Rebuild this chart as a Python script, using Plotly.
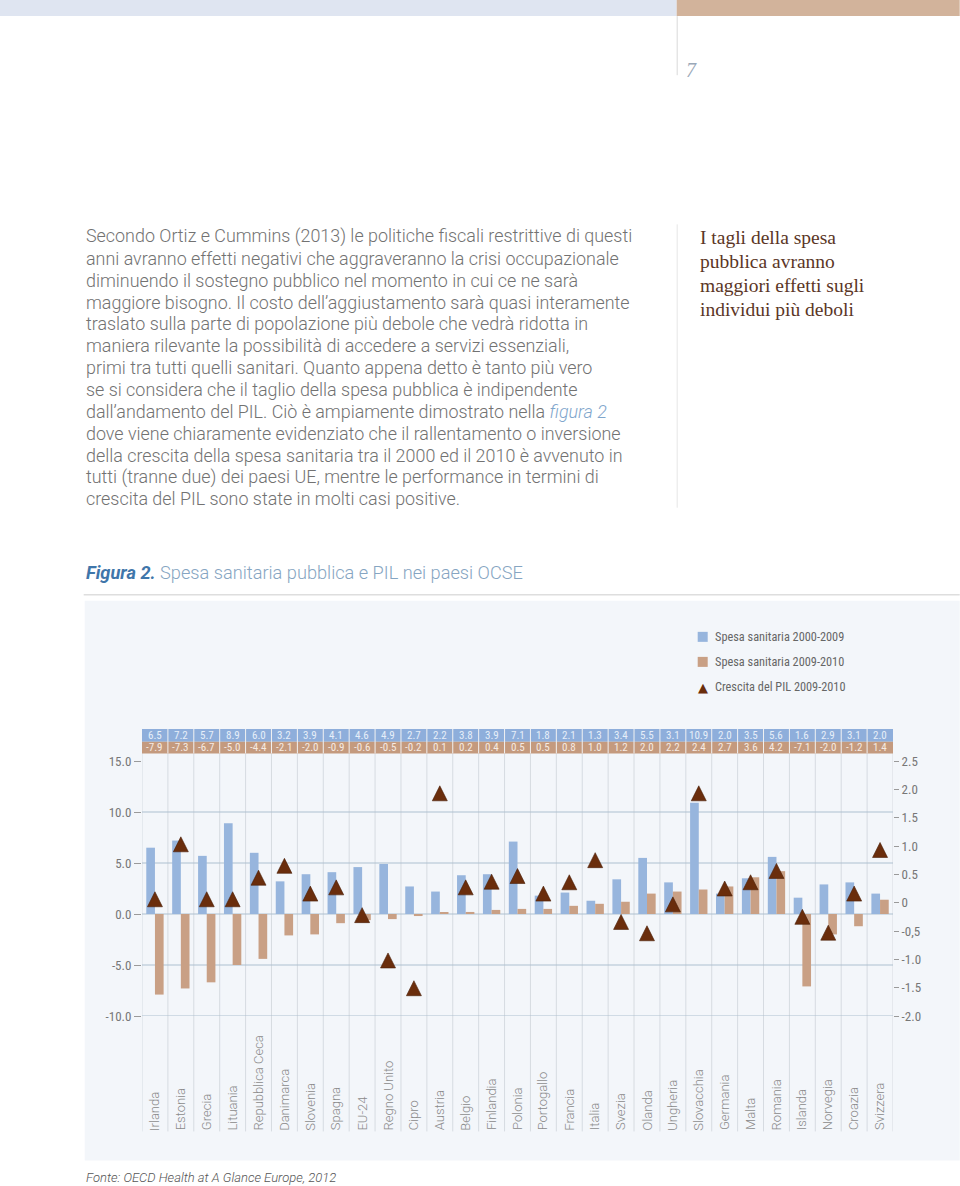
import plotly.graph_objects as go

# ---------------- data ----------------
paesi = ["Irlanda", "Estonia", "Grecia", "Lituania", "Repubblica Ceca", "Danimarca",
         "Slovenia", "Spagna", "EU-24", "Regno Unito", "Cipro", "Austria", "Belgio",
         "Finlandia", "Polonia", "Portogallo", "Francia", "Italia", "Svezia", "Olanda",
         "Ungheria", "Slovacchia", "Germania", "Malta", "Romania", "Islanda",
         "Norvegia", "Croazia", "Svizzera"]
spesa_2000_2009 = [6.5, 7.2, 5.7, 8.9, 6.0, 3.2, 3.9, 4.1, 4.6, 4.9, 2.7, 2.2, 3.8, 3.9,
                   7.1, 1.8, 2.1, 1.3, 3.4, 5.5, 3.1, 10.9, 2.0, 3.5, 5.6, 1.6, 2.9, 3.1, 2.0]
spesa_2009_2010 = [-7.9, -7.3, -6.7, -5.0, -4.4, -2.1, -2.0, -0.9, -0.6, -0.5, -0.2, 0.1,
                   0.2, 0.4, 0.5, 0.5, 0.8, 1.0, 1.2, 2.0, 2.2, 2.4, 2.7, 3.6, 4.2, -7.1,
                   -2.0, -1.2, 1.4]
pil_2009_2010 = [0.06, 1.03, 0.06, 0.06, 0.44, 0.65, 0.16, 0.27, -0.22, -1.02, -1.51, 1.93,
                 0.27, 0.37, 0.47, 0.16, 0.36, 0.75, -0.34, -0.54, -0.03, 1.93, 0.25, 0.36,
                 0.56, -0.25, -0.53, 0.16, 0.93]

left_ticks = [-10, -5, 0, 5, 10, 15]
left_ticktext = ["-10.0", "-5.0", "0.0", "5.0", "10.0", "15.0"]
right_ticks = [-2.0, -1.5, -1.0, -0.5, 0, 0.5, 1.0, 1.5, 2.0, 2.5]
right_ticktext = ["-2.0", "-1.5", "-1.0", "-0,5", "0", "0.5", "1.0", "1.5", "2.0", "2.5"]

body_lines = [
    "Secondo Ortiz e Cummins (2013) le politiche fiscali restrittive di questi",
    "anni avranno effetti negativi che aggraveranno la crisi occupazionale",
    "diminuendo il sostegno pubblico nel momento in cui ce ne sarà",
    "maggiore bisogno. Il costo dell’aggiustamento sarà quasi interamente",
    "traslato sulla parte di popolazione più debole che vedrà ridotta in",
    "maniera rilevante la possibilità di accedere a servizi essenziali,",
    "primi tra tutti quelli sanitari. Quanto appena detto è tanto più vero",
    "se si considera che il taglio della spesa pubblica è indipendente",
    "dall’andamento del PIL. Ciò è ampiamente dimostrato nella <i><span style='color:#7fa6cc'>figura 2</span></i>",
    "dove viene chiaramente evidenziato che il rallentamento o inversione",
    "della crescita della spesa sanitaria tra il 2000 ed il 2010 è avvenuto in",
    "tutti (tranne due) dei paesi UE, mentre le performance in termini di",
    "crescita del PIL sono state in molti casi positive.",
]
side_lines = ["I tagli della spesa", "pubblica avranno", "maggiori effetti sugli",
              "individui più deboli"]

# ---------------- geometry helpers ----------------
W, H = 960, 1186
L, R, T, B = 142.3, 893.3, 761.0, 1015.7


def px(x):
    return (x - L) / (R - L)


def py(y):
    return (B - y) / (B - T)


COND = "Roboto Condensed, Liberation Sans Narrow, DejaVu Sans Condensed, Arial Narrow, Roboto"
BLUE = "#97b5dd"
BROWN = "#c9a085"
TRI = "#6a2d0c"

fig = go.Figure()
fig.add_trace(go.Bar(x=paesi, y=spesa_2000_2009, name="Spesa sanitaria 2000-2009",
                     marker=dict(color=BLUE, line=dict(width=0)), showlegend=False))
fig.add_trace(go.Bar(x=paesi, y=spesa_2009_2010, name="Spesa sanitaria 2009-2010",
                     marker=dict(color=BROWN, line=dict(width=0)), showlegend=False))
fig.add_trace(go.Scatter(x=paesi, y=pil_2009_2010, yaxis="y2", mode="markers",
                         name="Crescita del PIL 2009-2010", showlegend=False,
                         marker=dict(symbol="arrow-down", angle=180, standoff=7.5, size=15,
                                     color=TRI, line=dict(color="#4a1e06", width=0.6))))

shapes = []
ann = []


def rect(x0, y0, x1, y1, color, layer="below"):
    shapes.append(dict(type="rect", xref="paper", yref="paper", x0=px(x0), x1=px(x1),
                       y0=py(y1), y1=py(y0), fillcolor=color, line=dict(width=0),
                       layer=layer))


def line(x0, y0, x1, y1, color, width=1, layer="below"):
    shapes.append(dict(type="line", xref="paper", yref="paper", x0=px(x0), x1=px(x1),
                       y0=py(y0), y1=py(y1), line=dict(color=color, width=width),
                       layer=layer))


def text(x, y, s, size, color, family="Roboto", xanchor="left", yanchor="middle",
         weight=None, style=None, angle=0):
    f = dict(size=size, color=color, family=family)
    if weight:
        f["weight"] = weight
    if style:
        f["style"] = style
    ann.append(dict(xref="paper", yref="paper", x=px(x), y=py(y), text=s, showarrow=False,
                    xanchor=xanchor, yanchor=yanchor, font=f, textangle=angle,
                    align="left"))


# page decorations
rect(0, 0, 677, 17, "#dfe5f1")
rect(677, 0, 960, 17, "#d2b39b")
line(677.5, 17, 677.5, 76, "#d9d9d9")
text(684, 71, "7", 20, "#9aa8b8", family="Liberation Serif, DejaVu Serif, serif",
     style="italic")
line(677.5, 225, 677.5, 508, "#e6e6e6")

# body text
for i, s in enumerate(body_lines):
    text(84, 237 + i * 21.85, s, 17.9, "#727272", weight=300)
for i, s in enumerate(side_lines):
    text(698, 238 + i * 24, s, 19.5, "#5b3626",
         family="Liberation Serif, DejaVu Serif, serif")

# figure title
text(84, 573, "<b><i><span style='color:#3f76aa'>Figura 2.</span></i></b> Spesa sanitaria pubblica e PIL nei paesi OCSE",
     18.2, "#86a5c2", weight=300)
line(84, 595, 960, 595, "#dedede", width=1.5)

# panel
rect(85, 601, 960, 1160, "#f3f6fa")

# vertical separators (category boundaries)
for i in range(len(paesi) + 1):
    shapes.append(dict(type="line", xref="x", yref="paper", x0=i - 0.5, x1=i - 0.5,
                       y0=py(1131), y1=py(729), line=dict(color="#d6dbe1", width=1),
                       layer="below"))
# horizontal gridlines
for v in [-10, -5, 0, 5, 10]:
    shapes.append(dict(type="line", xref="paper", yref="y", x0=0, x1=1, y0=v, y1=v,
                       line=dict(color="#adbfcf", width=1.2), layer="below"))

# data table above plot
rect(142.3, 729, 893.3, 741.8, "#8eaedb", layer="above")
rect(142.3, 741.8, 893.3, 753.5, "#c49a7e", layer="above")
for i in range(1, len(paesi)):
    shapes.append(dict(type="line", xref="x", yref="paper", x0=i - 0.5, x1=i - 0.5,
                       y0=py(753.5), y1=py(729), line=dict(color="#f2f2f2", width=1),
                       layer="above"))
for i in range(len(paesi)):
    ann.append(dict(xref="x", yref="paper", x=i, y=py(735.5), yanchor="middle",
                    xanchor="center", text=f"{spesa_2000_2009[i]:.1f}", showarrow=False,
                    font=dict(size=11, color="#e6eef9", family=COND)))
    ann.append(dict(xref="x", yref="paper", x=i, y=py(747.7), yanchor="middle",
                    xanchor="center", text=f"{spesa_2009_2010[i]:.1f}", showarrow=False,
                    font=dict(size=11, color="#f7ebe2", family=COND)))

# category labels (rotated, bottom aligned)
for i, p in enumerate(paesi):
    ann.append(dict(xref="x", yref="paper", x=i, y=py(1132), text=p, showarrow=False,
                    textangle=-90, xanchor="center", yanchor="bottom",
                    font=dict(size=13, color="#8a8a8a", family="Roboto", weight=300)))

# legend
rect(698, 632, 708, 642, BLUE)
rect(698, 657, 708, 667, BROWN)
text(713, 637, "Spesa sanitaria 2000-2009", 12.3, "#666666", family=COND)
text(713, 662, "Spesa sanitaria 2009-2010", 12.3, "#666666", family=COND)
text(713, 687, "Crescita del PIL 2009-2010", 12.3, "#666666", family=COND)
text(703, 688, "▲", 13, TRI, family="DejaVu Sans", xanchor="center")

# source
text(84, 1177, "Fonte: OECD Health at A Glance Europe, 2012", 13, "#555555",
     style="italic", weight=300)

fig.update_layout(
    width=W, height=H,
    margin=dict(l=L, r=W - R, t=T, b=H - B, pad=0),
    paper_bgcolor="white", plot_bgcolor="rgba(0,0,0,0)",
    barmode="group", bargap=0.33, bargroupgap=0,
    shapes=shapes, annotations=ann, showlegend=False,
    xaxis=dict(range=[-0.5, len(paesi) - 0.5], showticklabels=False, showgrid=False,
               zeroline=False, ticks=""),
    yaxis=dict(range=[-10, 15], tickvals=left_ticks, ticktext=left_ticktext,
               showgrid=False, zeroline=False, ticks="outside", ticklen=7,
               tickcolor="#9a9a9a", tickfont=dict(size=13, color="#777777", family=COND)),
    yaxis2=dict(range=[-2, 2.5], overlaying="y", side="right", tickvals=right_ticks,
                ticktext=right_ticktext, showgrid=False, zeroline=False, ticks="outside",
                ticklen=5, tickcolor="#9a9a9a",
                tickfont=dict(size=13, color="#777777", family=COND)),
)

fig.write_html("out.html", config={"displayModeBar": False},
               post_script="document.body.style.margin='0';")
